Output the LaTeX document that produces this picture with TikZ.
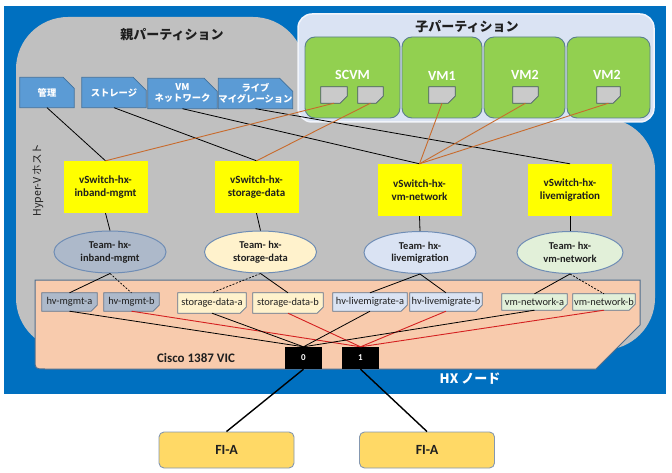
\documentclass[tikz,border=0pt]{standalone}
\usepackage{fontspec}
\setmainfont{Carlito}
\newfontfamily\jp{Noto Sans CJK JP}
\usetikzlibrary{shapes.geometric}
\pgfdeclarelayer{bgA}\pgfdeclarelayer{bgB}\pgfsetlayers{bgA,bgB,main}
\definecolor{bgblue}{HTML}{0070C0}
\definecolor{hvgray}{HTML}{C0C0C0}
\definecolor{childfill}{HTML}{DAE3F3}
\definecolor{childborder}{HTML}{F2F5FB}
\definecolor{vmgreen}{HTML}{92D050}
\definecolor{vmborder}{HTML}{5A7F8C}
\definecolor{tabblue}{HTML}{5B9BD5}
\definecolor{tabborder}{HTML}{41719C}
\definecolor{portgray}{HTML}{CACACA}
\definecolor{portborder}{HTML}{4A5A6A}
\definecolor{vsyellow}{HTML}{FFFF00}
\definecolor{tA}{HTML}{ADB9CA}
\definecolor{tB}{HTML}{FFF2CC}
\definecolor{tC}{HTML}{DAE3F3}
\definecolor{tD}{HTML}{E2F0D9}
\definecolor{teamborder}{HTML}{6F8DB5}
\definecolor{nicfill}{HTML}{F8CBAD}
\definecolor{nicborder}{HTML}{4F6E8E}
\definecolor{nictabborder}{HTML}{5F7690}
\definecolor{fiyellow}{HTML}{FFD966}
\definecolor{fiborder}{HTML}{8497B0}
\definecolor{orline}{HTML}{C86A2C}
\definecolor{redline}{HTML}{D42020}
\definecolor{darktext}{HTML}{1F1F1F}
\newcommand\shapeTR[3]{\begin{pgfonlayer}{bgB}\path[#3] (#1.south west) -- (#1.north west) -- ([xshift=-#2]#1.north east) -- ([yshift=-#2]#1.north east) -- (#1.south east) -- cycle;\end{pgfonlayer}}
\newcommand\shapeBR[3]{\begin{pgfonlayer}{bgB}\path[#3] (#1.north west) -- (#1.north east) -- ([yshift=#2]#1.south east) -- ([xshift=-#2]#1.south east) -- (#1.south west) -- cycle;\end{pgfonlayer}}
\begin{document}
\begin{tikzpicture}[x=1pt,y=-1pt,
  hosttab/.style={minimum width=#1, minimum height=30pt, inner sep=0pt, text=white, align=center, font=\jp\bfseries\fontsize{9.3}{11}\selectfont},
  hostshape/.style={fill=tabblue, draw=tabborder, line width=0.8pt},
  vmbox/.style={minimum width=#1, minimum height=81pt, inner sep=0pt, fill=vmgreen, draw=vmborder, line width=0.9pt, rounded corners=10pt},
  vmlabel/.style={text=white, font=\bfseries\fontsize{14}{16}\selectfont},
  vport/.style={minimum width=#1, minimum height=16pt, inner sep=0pt},
  vportshape/.style={fill=portgray, draw=portborder, line width=0.8pt},
  vsw/.style={fill=vsyellow, minimum width=84pt, minimum height=52pt, inner sep=0pt, align=center, text=darktext, font=\bfseries\fontsize{11}{13}\selectfont},
  team/.style={ellipse, draw=teamborder, line width=1pt, fill=#1, minimum width=112pt, minimum height=42pt, inner sep=0pt, align=center, text=darktext, font=\bfseries\fontsize{10.5}{12.5}\selectfont},
  nictab/.style={minimum width=#1, minimum height=18pt, inner sep=0pt, text=darktext, font=\fontsize{10.4}{12}\selectfont},
  nicshape/.style={fill=#1, draw=nictabborder, line width=0.8pt},
  port/.style={fill=black, text=white, minimum width=37pt, minimum height=22pt, inner sep=0pt, font=\bfseries\fontsize{9}{10}\selectfont},
  fibox/.style={fill=fiyellow, draw=fiborder, line width=0.9pt, rounded corners=5pt, minimum width=135pt, minimum height=36pt, inner sep=0pt, text=darktext, font=\bfseries\fontsize{14}{16}\selectfont},
  blk/.style={draw=black, line width=0.8pt},
  org/.style={draw=orline, line width=0.9pt},
  rdl/.style={draw=redline, line width=0.9pt},
  dsh/.style={draw=black, line width=0.7pt, dash pattern=on 2pt off 1.5pt},
  fil/.style={draw=black, line width=1.4pt}
]
\useasboundingbox (0,0) rectangle (672,473);
\begin{pgfonlayer}{bgA}
  \fill[white] (0,0) rectangle (672,473);
  \fill[bgblue] (4,6) rectangle (666,394);
  \fill[hvgray, rounded corners=52pt] (16,350) -- (16,17) -- (305,17) -- (305,118) -- (655,118) -- (655,350) -- cycle;
  \filldraw[fill=childfill, draw=childborder, line width=1.5pt, rounded corners=14pt] (298,14) rectangle (654,122);
  \filldraw[fill=nicfill, draw=nicborder, line width=1pt] (35,280) -- (640,280) -- (640,325) -- (596,369) -- (45,369) .. controls (35,369) .. (35,359) -- cycle;
  \node[vmbox=95pt] (scvm) at (352.5,77.5) {};
  \node[vmbox=80pt] (vma) at (442,77.5) {};
  \node[vmbox=81pt] (vmb) at (524.5,77.5) {};
  \node[vmbox=83pt] (vmc) at (608.5,77.5) {};
\end{pgfonlayer}

% titles
\node[text=darktext, font=\jp\bfseries\fontsize{13}{15}\selectfont] (pp) at (172,35) {親パーティション};
\node[text=darktext, font=\jp\bfseries\fontsize{13}{15}\selectfont] (cp) at (467,27) {子パーティション};
\node[rotate=90, text=darktext, font=\jp\fontsize{10.5}{12}\selectfont] (hv) at (38,180) {Hyper-V ホスト};

% host vNIC tabs
\node[hosttab=54pt] (mg) at (47,92.5) {管理};
\node[hosttab=64pt] (st) at (114,92.5) {ストレージ};
\node[hosttab=69pt] (vmn) at (182.5,93.5) {VM\\ネットワーク};
\node[hosttab=73pt] (lm) at (255.5,93.5) {ライブ\\マイグレーション};
\shapeTR{mg}{11pt}{hostshape}
\shapeTR{st}{13pt}{hostshape}
\shapeTR{vmn}{13pt}{hostshape}
\shapeTR{lm}{13pt}{hostshape}

% VM labels and ports
\node[vmlabel] (lscvm) at (352.5,75) {SCVM};
\node[vmlabel] (lvma) at (442,76) {VM1};
\node[vmlabel] (lvmb) at (525,75) {VM2};
\node[vmlabel] (lvmc) at (607,75) {VM2};
\node[vport=26pt] (p1) at (334,95) {};
\node[vport=25pt] (p2) at (370.5,95) {};
\node[vport=26pt] (p3) at (442,95) {};
\node[vport=25pt] (p4) at (525.5,95) {};
\node[vport=23pt] (p5) at (608.5,95) {};
\shapeBR{p1}{7pt}{vportshape}
\shapeBR{p2}{7pt}{vportshape}
\shapeBR{p3}{7pt}{vportshape}
\shapeBR{p4}{7pt}{vportshape}
\shapeBR{p5}{7pt}{vportshape}

% vSwitches
\node[vsw] (vs1) at (105.5,187) {vSwitch-hx-\\inband-mgmt};
\node[vsw] (vs2) at (256.5,187) {vSwitch-hx-\\storage-data};
\node[vsw] (vs3) at (419.5,190) {vSwitch-hx-\\vm-network};
\node[vsw] (vs4) at (570,190) {vSwitch-hx-\\livemigration};

% teams
\node[team=tA] (t1) at (110,252) {Team- hx-\\inband-mgmt};
\node[team=tB] (t2) at (260.5,252) {Team- hx-\\storage-data};
\node[team=tC] (t3) at (420,252.5) {Team- hx-\\livemigration};
\node[team=tD, minimum width=106pt] (t4) at (570,252.5) {Team- hx-\\vm-network};

% NIC tabs
\node[nictab=55pt] (n1) at (69.5,302) {hv-mgmt-a};
\node[nictab=55pt] (n2) at (131.5,302) {hv-mgmt-b};
\node[nictab=68pt, minimum height=20pt] (n3) at (212,303) {storage-data-a};
\node[nictab=70pt, minimum height=20pt] (n4) at (288,303) {storage-data-b};
\node[nictab=74pt] (n5) at (370,302) {hv-livemigrate-a};
\node[nictab=72pt] (n6) at (446,302) {hv-livemigrate-b};
\node[nictab=65pt, minimum height=16pt] (n7) at (534.5,302) {vm-network-a};
\node[nictab=62pt, minimum height=16pt] (n8) at (604,302) {vm-network-b};
\shapeBR{n1}{6pt}{nicshape=tA}
\shapeBR{n2}{6pt}{nicshape=tA}
\shapeBR{n3}{6pt}{nicshape=tB}
\shapeBR{n4}{6pt}{nicshape=tB}
\shapeBR{n5}{6pt}{nicshape=tC}
\shapeBR{n6}{6pt}{nicshape=tC}
\shapeBR{n7}{6pt}{nicshape=tD}
\shapeBR{n8}{6pt}{nicshape=tD}

% ports, labels, FIs
\node[port] (P0) at (303.5,358) {0};
\node[port] (P1) at (360.5,358) {1};
\node[text=darktext, font=\bfseries\fontsize{13}{15}\selectfont] (vic) at (196,358) {Cisco 1387 VIC};
\node[text=white, font=\jp\bfseries\fontsize{13}{15}\selectfont] (hx) at (470,379) {HX ノード};
\node[fibox] (fi1) at (226.5,450) {FI-A};
\node[fibox] (fi2) at (427,450) {FI-A};

% connectors: host tabs and VM ports to vSwitches
\draw[blk] (mg.south) -- (vs1.north);
\draw[blk] (st.south) -- (vs2.north);
\draw[blk] (vmn.south) -- (vs3.north);
\draw[blk] (lm.south) -- (vs4.north);
\draw[org] (p1.south) -- (vs1.north);
\draw[org] (p2.south) -- (vs2.north);
\draw[org] (p3.south) -- (vs3.north);
\draw[org] (p4.south) -- (vs3.north);
\draw[org] (p5.south) -- (vs3.north);
% vSwitch to team
\draw[blk] (vs1.south) -- (t1.north);
\draw[blk] (vs2.south) -- (t2.north);
\draw[blk] (vs3.south) -- (t3.north);
\draw[blk] (vs4.south) -- (t4.north);
% team to NIC tabs
\draw[blk] (t1.south) -- (n1.north);
\draw[dsh] (t1.south) -- (n2.north);
\draw[dsh] (t2.south) -- (n3.north);
\draw[blk] (t2.south) -- (n4.north);
\draw[blk] (t3.south) -- (n5.north);
\draw[blk] (t3.south) -- (n6.north);
\draw[blk] (t4.south) -- (n7.north);
\draw[dsh] (t4.south) -- (n8.north);
% NIC tabs to ports
\draw[blk] (n1.south) -- (P0.north);
\draw[rdl] (n2.south) -- (P1.north);
\draw[blk] (n3.south) -- (P0.north);
\draw[rdl] (n4.south) -- (P1.north);
\draw[blk] (n5.south) -- (P0.north);
\draw[rdl] (n6.south) -- (P1.north);
\draw[blk] (n7.south) -- (P0.north);
\draw[rdl] (n8.south) -- (P1.north);
% ports to FIs
\draw[fil] (P0.south) -- (fi1.north);
\draw[fil] (P1.south) -- (fi2.north);
\end{tikzpicture}
\end{document}
